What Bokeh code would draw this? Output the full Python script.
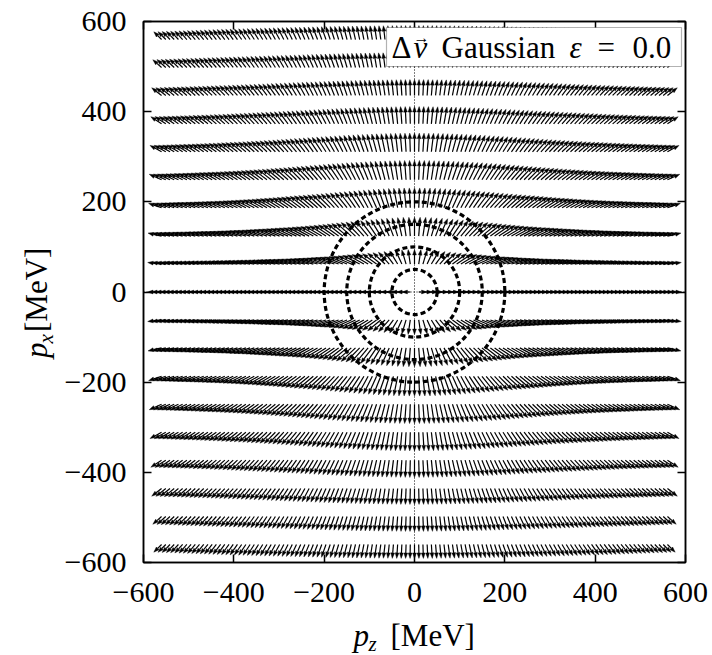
import numpy as np
from bokeh.plotting import figure
from bokeh.layouts import column, row
from bokeh.models import (Range1d, LinearAxis, FixedTicker, ColumnDataSource,
                          Label, BoxAnnotation, Span, CustomJSTickFormatter)
from bokeh.embed import file_html
from bokeh.resources import INLINE

# ---- data ----
PX_ROWS = [-560, -498, -436, -373, -311, -249, -187, -124, -62, 0,
           62, 124, 187, 249, 311, 373, 436, 498, 560]
PZ_MIN, PZ_MAX, N_COLS = -560, 560, 121
P_MAG_KNOTS = [0, 60, 125, 190, 300, 440, 560, 700, 800]     # |p| in MeV
ARROW_LEN = [16, 32, 42, 44, 42, 35, 31, 28, 24]             # arrow length (MeV) read at those |p|
RADII = [50, 100, 150, 200]          # dashed circles (MeV)
TICKS = [-600, -400, -200, 0, 200, 400, 600]
LEGEND_PARTS = ["Δ", "v", "→", "Gaussian", "ε", "=", "0.0"]
X_TITLE = ["p", "z", "[MeV]"]
Y_TITLE = ["p", "x", "[MeV]"]

FONT = "Liberation Serif"

PAGE_W, PAGE_H = 712, 655
YSTRIP_W = 60
PH = 617                      # main plot height
PW = PAGE_W - YSTRIP_W
L, R, T, B = 143 - YSTRIP_W, 27, 21, PH - 562

p = figure(width=PW, height=PH, x_range=Range1d(-600, 600), y_range=Range1d(-600, 600),
           output_backend="svg", toolbar_location=None,
           min_border_left=L, min_border_right=R, min_border_top=T, min_border_bottom=B)
p.xgrid.visible = False
p.ygrid.visible = False
p.background_fill_color = "white"
p.border_fill_color = "white"
p.outline_line_color = "black"
p.outline_line_width = 1.5

fw, fh = PW - L - R, PH - T - B
MEV_PER_PX = 1200 / fw
def dx(page_px):
    return (page_px - YSTRIP_W - L) / fw * 1200 - 600
def dy(py):
    return 600 - (py - T) / fh * 1200

# ---- axes ----
p.add_layout(LinearAxis(), "right")
p.add_layout(LinearAxis(), "above")
minus_fmt = CustomJSTickFormatter(code="return tick < 0 ? '\u2212' + Math.abs(tick) : tick.toString();")
blank_fmt = CustomJSTickFormatter(code="return '';")
for ax in p.axis:
    ax.ticker = FixedTicker(ticks=TICKS)
    ax.major_tick_in = 8
    ax.major_tick_out = 0
    ax.minor_tick_in = 0
    ax.minor_tick_out = 0
    ax.major_tick_line_width = 1.5
    ax.axis_line_width = 1.5
    ax.major_label_text_font = FONT
    ax.major_label_text_font_size = "30px"
    ax.major_label_text_color = "black"
for ax in p.right + p.above:
    ax.formatter = blank_fmt
    ax.major_label_standoff = 0
p.below[0].formatter = minus_fmt
p.left[0].formatter = minus_fmt
p.below[0].major_label_standoff = 20
p.left[0].major_label_standoff = 17

# ---- quiver field (tail at grid point, pointing along p) ----
pz = np.linspace(PZ_MIN, PZ_MAX, N_COLS)
PZ, PX = np.meshgrid(pz, np.array(PX_ROWS, dtype=float))
PZ, PX = PZ.ravel(), PX.ravel()
mag = np.hypot(PZ, PX)
ok = mag > 0
PZ, PX, mag = PZ[ok], PX[ok], mag[ok]
length = np.interp(mag, P_MAG_KNOTS, ARROW_LEN)
ux, uy = PZ / mag, PX / mag
head_len = np.minimum(5.5 * MEV_PER_PX, 0.7 * length)
head_half = 1.9 * MEV_PER_PX
tipx, tipy = PZ + ux * length, PX + uy * length
basex, basey = tipx - ux * head_len, tipy - uy * head_len
p.segment(x0=PZ, y0=PX, x1=basex, y1=basey, line_color="black", line_width=1.2)
hx = np.stack([tipx, basex - uy * head_half, basex + uy * head_half], axis=1)
hy = np.stack([tipy, basey + ux * head_half, basey - ux * head_half], axis=1)
p.patches(xs=[list(r) for r in hx], ys=[list(r) for r in hy], fill_color="black",
          line_color="black", line_width=0.4)

# ---- dashed circles ----
p.ellipse(x=[0] * len(RADII), y=[0] * len(RADII), width=[2 * r for r in RADII],
          height=[2 * r for r in RADII], fill_color=None, line_color="black",
          line_width=3.2, line_dash="5 3")

# ---- dotted zero lines ----
p.add_layout(Span(location=0, dimension="height", line_color="black", line_width=1, line_dash="1 2"))
p.add_layout(Span(location=0, dimension="width", line_color="black", line_width=1, line_dash="1 2"))

# ---- legend box ----
p.add_layout(BoxAnnotation(left=dx(386), right=dx(681), top=dy(27), bottom=dy(66),
                           fill_color="white", fill_alpha=1.0, line_color="black", line_width=1.2))
leg_pos = [(391, 47, 31, "normal"), (413, 47, 31, "italic"), (413, 37, 16, "normal"),
           (441, 47, 31, "normal"), (569, 47, 31, "italic"), (597, 47, 31, "normal"),
           (632, 47, 31, "normal")]
for txt, (px_, py_, fs, st) in zip(LEGEND_PARTS, leg_pos):
    p.add_layout(Label(x=dx(px_), y=dy(py_), text=txt, text_font=FONT, text_font_size=f"{fs}px",
                       text_font_style=st, text_color="black", text_baseline="middle",
                       text_align="left"))

# ---- axis-title strips (small figures whose frame is the whole strip) ----
def strip(w, h):
    f = figure(width=w, height=h, x_range=Range1d(0, w), y_range=Range1d(0, h),
               output_backend="svg", toolbar_location=None, min_border=0,
               x_axis_type=None, y_axis_type=None)
    f.xgrid.visible = False
    f.ygrid.visible = False
    f.outline_line_color = None
    f.background_fill_color = "white"
    f.border_fill_color = "white"
    return f

def lab(f, h, x, py, text, size, style, angle=0.0, align="left"):
    f.add_layout(Label(x=x, y=h - py, text=text, text_font=FONT, text_font_size=f"{size}px",
                       text_font_style=style, text_color="black", angle=angle,
                       text_baseline="middle", text_align=align))

ystrip = strip(YSTRIP_W, PH)
YSHIFT = 26   # empirical correction for rotated labels
lab(ystrip, PH, 35.5, 349 + YSHIFT, Y_TITLE[0], 31, "italic", np.pi / 2, "center")
lab(ystrip, PH, 45, 336 + YSHIFT, Y_TITLE[1], 21, "italic", np.pi / 2, "center")
lab(ystrip, PH, 35.5, 280 + YSHIFT, Y_TITLE[2], 31, "normal", np.pi / 2, "center")

XH = PAGE_H - PH
xstrip = strip(PAGE_W, XH)
lab(xstrip, XH, 353, 634.5 - PH, X_TITLE[0], 31, "italic")
lab(xstrip, XH, 368, 643 - PH, X_TITLE[1], 21, "italic")
lab(xstrip, XH, 390, 634.5 - PH, X_TITLE[2], 31, "normal")

layout = column(row(ystrip, p, spacing=0), xstrip, spacing=0)
open("out.html", "w").write(file_html(layout, INLINE))
